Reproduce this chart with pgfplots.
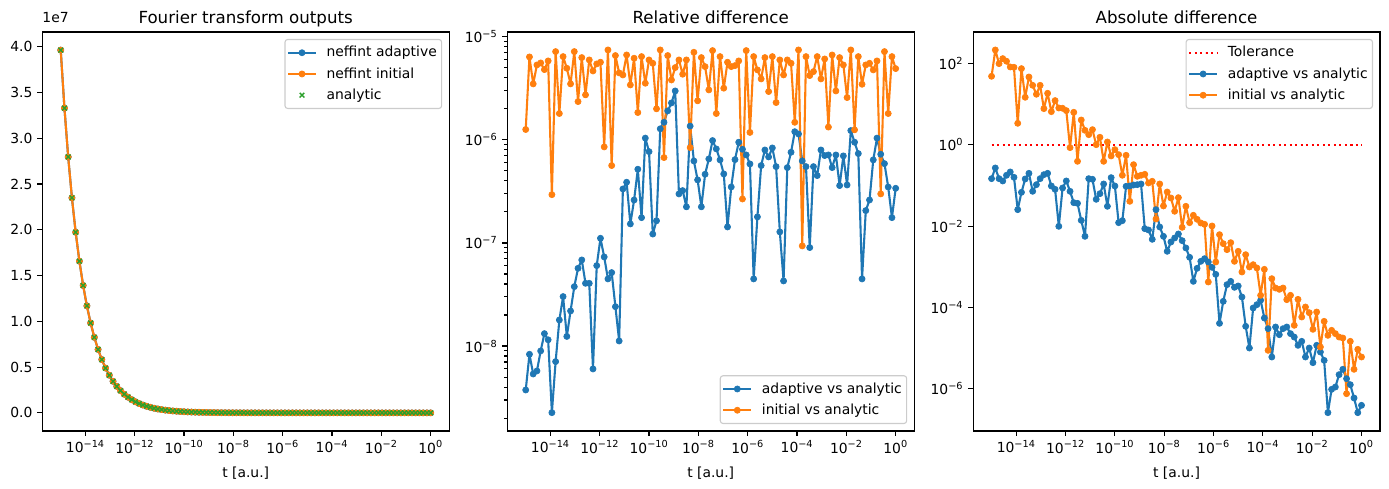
\documentclass[border=0pt]{standalone}
\usepackage{pgfplots}
\pgfplotsset{compat=1.18}
\usepackage{pgfplotstable}
\usepackage{fontspec}
\setmainfont{DejaVu Sans}
\definecolor{C0}{HTML}{1F77B4}
\definecolor{C1}{HTML}{FF7F0E}
\definecolor{C2}{HTML}{2CA02C}

% Panel 1: Fourier transform outputs
\pgfplotstableread{
t f
1.000e-15 3.963e7
1.417e-15 3.329e7
2.009e-15 2.796e7
2.848e-15 2.349e7
4.037e-15 1.973e7
5.722e-15 1.657e7
8.111e-15 1.392e7
1.150e-14 1.169e7
1.630e-14 9.82e6
2.310e-14 8.25e6
3.275e-14 6.93e6
4.642e-14 5.82e6
6.579e-14 4.89e6
9.326e-14 4.11e6
1.322e-13 3.45e6
1.874e-13 2.90e6
2.656e-13 2.43e6
3.765e-13 2.04e6
5.337e-13 1.716e6
7.565e-13 1.441e6
1.072e-12 1.211e6
1.520e-12 1.017e6
2.154e-12 8.54e5
3.054e-12 7.17e5
4.329e-12 6.03e5
6.136e-12 5.06e5
8.697e-12 4.25e5
1.233e-11 3.57e5
1.748e-11 3.00e5
2.477e-11 2.52e5
3.511e-11 2.12e5
4.977e-11 1.776e5
7.055e-11 1.492e5
1.000e-10 1.253e5
1.417e-10 1.053e5
2.009e-10 8.84e4
2.848e-10 7.43e4
4.037e-10 6.24e4
5.722e-10 5.24e4
8.111e-10 4.40e4
1.150e-09 3.70e4
1.630e-09 3.11e4
2.310e-09 2.61e4
3.275e-09 2.19e4
4.642e-09 1.84e4
6.579e-09 1.545e4
9.326e-09 1.298e4
1.322e-08 1.090e4
1.874e-08 9.16e3
2.656e-08 7.69e3
3.765e-08 6.46e3
5.337e-08 5.43e3
7.565e-08 4.56e3
1.072e-07 3.83e3
1.520e-07 3.22e3
2.154e-07 2.70e3
3.054e-07 2.27e3
4.329e-07 1.905e3
6.136e-07 1.600e3
8.697e-07 1.344e3
1.233e-06 1.129e3
1.748e-06 948
2.477e-06 796
3.511e-06 669
4.977e-06 562
7.055e-06 472
1.000e-05 396
1.417e-05 333
2.009e-05 280
2.848e-05 235
4.037e-05 197
5.722e-05 166
8.111e-05 139
1.150e-04 117
1.630e-04 98.2
2.310e-04 82.5
3.275e-04 69.3
4.642e-04 58.2
6.579e-04 48.9
9.326e-04 41.1
1.322e-03 34.5
1.874e-03 29.0
2.656e-03 24.3
3.765e-03 20.4
5.337e-03 17.2
7.565e-03 14.4
1.072e-02 12.1
1.520e-02 10.2
2.154e-02 8.54
3.054e-02 7.17
4.329e-02 6.03
6.136e-02 5.06
8.697e-02 4.25
1.233e-01 3.57
1.748e-01 3.00
2.477e-01 2.52
3.511e-01 2.12
4.977e-01 1.777
7.055e-01 1.493
1.000e+00 1.253
}\tabF

% Panel 2: Relative difference (adaptive, initial)
\pgfplotstableread{
t a i
1.000e-15 3.75e-9 1.26e-6
1.417e-15 8.32e-9 6.37e-6
2.009e-15 5.36e-9 3.49e-6
2.848e-15 5.74e-9 5.33e-6
4.037e-15 8.97e-9 5.57e-6
5.722e-15 1.32e-8 4.80e-6
8.111e-15 1.15e-8 5.83e-6
1.150e-14 2.26e-9 2.94e-7
1.630e-14 7.07e-9 7.18e-6
2.310e-14 1.79e-8 1.80e-6
3.275e-14 3.02e-8 6.42e-6
4.642e-14 1.24e-8 4.95e-6
6.579e-14 2.19e-8 3.49e-6
9.326e-14 3.77e-8 7.18e-6
1.322e-13 5.68e-8 2.35e-6
1.874e-13 6.84e-8 6.28e-6
2.656e-13 4.06e-8 2.73e-6
3.765e-13 4.06e-8 5.96e-6
5.337e-13 6.00e-9 4.66e-6
7.565e-13 6.03e-8 5.45e-6
1.072e-12 1.11e-7 5.66e-6
1.520e-12 7.32e-8 8.54e-7
2.154e-12 4.48e-8 7.45e-6
3.054e-12 5.16e-8 5.63e-7
4.329e-12 2.41e-8 6.57e-6
6.136e-12 1.12e-8 4.46e-6
8.697e-12 3.34e-7 4.26e-6
1.233e-11 3.88e-7 6.66e-6
1.748e-11 1.53e-7 3.41e-6
2.477e-11 2.61e-7 6.19e-6
3.511e-11 5.19e-7 1.84e-6
4.977e-11 1.76e-7 6.42e-6
7.055e-11 1.04e-6 3.54e-6
1.000e-10 7.69e-7 5.96e-6
1.417e-10 1.22e-7 5.53e-6
2.009e-10 1.64e-7 2.00e-6
2.848e-10 1.28e-6 7.45e-6
4.037e-10 1.48e-6 6.73e-7
5.722e-10 1.91e-6 6.57e-6
8.111e-10 2.28e-6 3.81e-6
1.150e-09 2.98e-6 5.02e-6
1.630e-09 2.99e-7 5.96e-6
2.310e-09 3.22e-7 4.33e-6
3.275e-09 2.24e-7 5.96e-6
4.642e-09 1.36e-6 8.41e-7
6.579e-09 6.24e-7 7.07e-6
9.326e-09 4.09e-7 2.39e-6
1.322e-08 2.24e-7 6.28e-6
1.874e-08 4.64e-7 5.13e-6
2.656e-08 6.53e-7 3.05e-6
3.765e-08 9.84e-7 7.34e-6
5.337e-08 8.17e-7 1.80e-6
7.565e-08 6.39e-7 6.42e-6
1.072e-07 4.67e-7 3.17e-6
1.520e-07 1.43e-7 5.66e-6
2.154e-07 3.49e-7 5.13e-6
3.054e-07 6.43e-7 5.25e-6
4.329e-07 9.48e-7 5.83e-6
6.136e-07 8.10e-7 2.67e-7
8.697e-07 7.14e-7 7.34e-6
1.233e-06 5.84e-7 1.18e-6
1.748e-06 4.48e-8 6.42e-6
2.477e-06 1.79e-7 4.77e-6
3.511e-06 5.63e-7 3.90e-6
4.977e-06 7.98e-7 6.28e-6
7.055e-06 6.83e-7 2.94e-6
1.000e-05 8.35e-7 6.42e-6
1.417e-05 5.50e-7 2.30e-6
2.009e-05 1.28e-7 5.96e-6
2.848e-05 4.28e-8 4.26e-6
4.037e-05 5.38e-7 5.96e-6
5.722e-05 7.58e-7 5.53e-6
8.111e-05 1.20e-6 1.48e-6
1.150e-04 1.14e-6 7.45e-6
1.630e-04 6.24e-7 9.36e-8
2.310e-04 5.50e-7 6.42e-6
3.275e-04 9.02e-8 4.20e-6
4.642e-04 5.50e-7 4.59e-6
6.579e-04 4.50e-7 6.42e-6
9.326e-04 7.98e-7 3.90e-6
1.322e-03 7.04e-7 6.09e-6
1.874e-03 7.14e-7 1.33e-6
2.656e-03 5.38e-7 6.66e-6
3.765e-03 7.14e-7 2.98e-6
5.337e-03 3.60e-7 6.28e-6
7.565e-03 6.99e-7 5.33e-6
1.072e-02 3.65e-7 2.57e-6
1.520e-02 1.23e-6 7.45e-6
2.154e-02 9.48e-7 1.25e-6
3.054e-02 7.36e-7 6.42e-6
4.329e-02 4.48e-8 3.46e-6
6.136e-02 2.06e-7 5.33e-6
8.697e-02 2.61e-7 5.53e-6
1.233e-01 6.39e-7 4.77e-6
1.748e-01 1.04e-6 5.83e-6
2.477e-01 7.25e-7 2.99e-7
3.511e-01 5.88e-7 7.18e-6
4.977e-01 3.49e-7 1.80e-6
7.055e-01 1.76e-7 6.42e-6
1.000e+00 3.39e-7 4.91e-6
}\tabR

% Panel 3: Absolute difference (adaptive, initial)
\pgfplotstableread{
t a i
1.000e-15 0.1464 47.8
1.417e-15 0.2677 212
2.009e-15 0.1464 97.9
2.848e-15 0.1283 130
4.037e-15 0.1768 112
5.722e-15 0.2135 81.1
8.111e-15 0.1579 79.6
1.150e-14 0.02533 3.35
1.630e-14 0.0675 73.8
2.310e-14 0.1437 14.6
3.275e-14 0.1979 46.0
4.642e-14 0.0715 28.7
6.579e-14 0.1042 17.3
9.326e-14 0.1464 28.7
1.322e-13 0.1835 7.68
1.874e-13 0.1979 18.3
2.656e-13 0.0966 6.48
3.765e-13 0.0800 12.1
5.337e-13 0.00987 7.97
7.565e-13 0.0863 7.83
1.072e-12 0.1283 6.86
1.520e-12 0.0715 0.846
2.154e-12 0.0376 6.24
3.054e-12 0.0362 0.390
4.329e-12 0.01385 4.04
6.136e-12 0.00560 2.25
8.697e-12 0.1464 1.76
1.233e-11 0.1409 2.34
1.748e-11 0.0455 1.00
2.477e-11 0.0626 1.52
3.511e-11 0.1082 0.390
4.977e-11 0.0306 1.165
7.055e-11 0.1549 0.528
1.000e-10 0.0966 0.755
1.417e-10 0.01214 0.569
2.009e-10 0.0136 0.177
2.848e-10 0.0948 0.548
4.037e-10 0.0966 0.0406
5.722e-10 0.1023 0.323
8.111e-10 0.1042 0.167
1.150e-09 0.1082 0.177
1.630e-09 0.00865 0.187
2.310e-09 0.00802 0.1146
3.275e-09 0.00473 0.1259
4.642e-09 0.02533 0.01494
6.579e-09 0.0095 0.1082
9.326e-09 0.0056 0.0312
1.322e-08 0.0024 0.0688
1.874e-08 0.00407 0.0490
2.656e-08 0.0051 0.0231
3.765e-08 0.0064 0.0500
5.337e-08 0.00439 0.00932
7.565e-08 0.0029 0.0306
1.072e-07 0.00171 0.01214
1.520e-07 0.000439 0.0184
2.154e-07 0.000917 0.01466
3.054e-07 0.001362 0.01192
4.329e-07 0.001585 0.01105
6.136e-07 0.001312 0.000423
8.697e-07 0.00097 0.01006
1.233e-06 0.000653 0.001312
1.748e-06 4.08e-5 0.00616
2.477e-06 0.0001417 0.00370
3.511e-06 0.000364 0.002636
4.977e-06 0.000439 0.00392
7.055e-06 0.000313 0.001362
1.000e-05 0.000338 0.00240
1.417e-05 0.000181 0.000745
2.009e-05 3.45e-5 0.001987
2.848e-05 1.01e-5 0.000989
4.037e-05 9.72e-5 0.001128
5.722e-05 0.0001174 0.000934
8.111e-05 0.00015 0.000199
1.150e-04 5.52e-5 0.000866
1.630e-04 3.02e-5 8.86e-6
2.310e-04 6.08e-6 0.000511
3.275e-04 3.32e-5 0.000301
4.642e-04 2.15e-5 0.000279
6.579e-04 3.02e-5 0.000301
9.326e-04 3.32e-5 0.0001558
1.322e-03 2.28e-5 0.000199
1.874e-03 1.88e-5 3.65e-5
2.656e-03 1.176e-5 0.0001587
3.765e-03 1.475e-5 5.84e-5
5.337e-03 6.08e-6 0.0001029
7.565e-03 1.01e-5 7.46e-5
1.072e-02 4.41e-6 2.91e-5
1.520e-02 1.176e-5 7.75e-5
2.154e-02 8.06e-6 1.07e-5
3.054e-02 5.03e-6 4.57e-5
4.329e-02 2.61e-7 2.07e-5
6.136e-02 9.76e-7 2.75e-5
8.697e-02 1.113e-6 2.28e-5
1.233e-01 2.24e-6 1.88e-5
1.748e-01 3.03e-6 1.78e-5
2.477e-01 1.784e-6 7.63e-7
3.511e-01 1.27e-6 1.475e-5
4.977e-01 5.98e-7 3.03e-6
7.055e-01 2.61e-7 9.38e-6
1.000e+00 3.95e-7 6.08e-6
}\tabD

\pgfplotsset{
  panel/.style={
    scale only axis, width=293pt, height=287.3pt,
    anchor=south west,
    xmin=1.778e-16, xmax=5.623,
    xtick={1e-14,1e-12,1e-10,1e-8,1e-6,1e-4,1e-2,1},
    xticklabels={10\textsuperscript{−14},10\textsuperscript{−12},10\textsuperscript{−10},10\textsuperscript{−8},10\textsuperscript{−6},10\textsuperscript{−4},10\textsuperscript{−2},10\textsuperscript{0}},
    minor xtick={},
    tick pos=left, tick align=outside,
    major tick length=3.5pt, minor tick length=2pt,
    tick style={black, line width=0.8pt},
    axis line style={line width=0.8pt},
    ticklabel style={font=\fontsize{10}{12}\selectfont},
    xlabel={t [a.u.]},
    xlabel style={font=\fontsize{10}{12}\selectfont, at={(axis description cs:0.5,0)}, anchor=base, yshift=-33.5pt},
    title style={font=\fontsize{12}{14}\selectfont, at={(axis description cs:0.5,1)}, anchor=base, yshift=0pt},
    legend cell align=left,
    legend style={draw=black!20, line width=0.8pt, rounded corners=2pt, fill=white,
      font=\fontsize{10}{12}\selectfont, inner xsep=1.5pt, inner ysep=3pt, row sep=2.2pt,
      /tikz/every odd column/.append style={column sep=5pt}},
    legend image code/.code={\draw[mark repeat=2,mark phase=2,##1] plot coordinates {(0pt,0pt) (10pt,0pt) (20pt,0pt)};},
  },
  dotline/.style={line width=1.5pt, line join=round, mark=*, mark size=2.2pt, mark options={solid, line width=0.5pt}},
}

\begin{document}
\begin{tikzpicture}
\path[use as bounding box] (0,0) rectangle (1000.08pt,352.08pt);

\begin{axis}[xmode=log, panel, at={(30.4pt,41.76pt)},
  title={Fourier transform outputs},
  ymin=-1.98e6, ymax=4.161e7, scaled y ticks=false,
  ytick={0,5e6,1e7,1.5e7,2e7,2.5e7,3e7,3.5e7,4e7},
  yticklabels={0.0,0.5,1.0,1.5,2.0,2.5,3.0,3.5,4.0},
  legend style={at={(1,1)}, anchor=north east, xshift=-5pt, yshift=-5pt},
  after end axis/.code={\node[anchor=south west, inner sep=0pt, font=\fontsize{10}{12}\selectfont] at (rel axis cs:0,1) [yshift=6.5pt] {1e7};}]
\addplot[C0, dotline] table[x=t, y=f]{\tabF};
\addlegendentry{neffint adaptive}
\addplot[C1, dotline] table[x=t, y=f]{\tabF};
\addlegendentry{neffint initial}
\addplot[C2, only marks, mark=x, mark size=2.4pt, mark options={line width=1pt}] table[x=t, y=f]{\tabF};
\addlegendentry{analytic}
\end{axis}

\begin{axis}[xmode=log, ymode=log, panel, at={(365.2pt,41.76pt)},
  title={Relative difference},
  ymin=1.50e-9, ymax=1.112e-5,
  ytick={1e-8,1e-7,1e-6,1e-5},
  yticklabels={10\textsuperscript{−8},10\textsuperscript{−7},10\textsuperscript{−6},10\textsuperscript{−5}},
  minor ytick={2e-9,3e-9,4e-9,5e-9,6e-9,7e-9,8e-9,9e-9,2e-8,3e-8,4e-8,5e-8,6e-8,7e-8,8e-8,9e-8,2e-7,3e-7,4e-7,5e-7,6e-7,7e-7,8e-7,9e-7,2e-6,3e-6,4e-6,5e-6,6e-6,7e-6,8e-6,9e-6},
  legend style={at={(1,0)}, anchor=south east, xshift=-5pt, yshift=5pt}]
\addplot[C0, dotline] table[x=t, y=a]{\tabR};
\addlegendentry{adaptive vs analytic}
\addplot[C1, dotline] table[x=t, y=i]{\tabR};
\addlegendentry{initial vs analytic}
\end{axis}

\begin{axis}[xmode=log, ymode=log, panel, at={(700.6pt,41.76pt)},
  title={Absolute difference},
  ymin=9.25e-8, ymax=587,
  ytick={1e-6,1e-4,1e-2,1,1e2},
  yticklabels={10\textsuperscript{−6},10\textsuperscript{−4},10\textsuperscript{−2},10\textsuperscript{0},10\textsuperscript{2}},
  minor ytick={},
  legend style={at={(1,1)}, anchor=north east, xshift=-5pt, yshift=-5pt}]
\addplot[red, line width=1.5pt, dash pattern=on 1.5pt off 2.475pt] table[x=t, y=tol]{
t tol
1e-15 1
1 1
};
\addlegendentry{Tolerance}
\addplot[C0, dotline] table[x=t, y=a]{\tabD};
\addlegendentry{adaptive vs analytic}
\addplot[C1, dotline] table[x=t, y=i]{\tabD};
\addlegendentry{initial vs analytic}
\end{axis}
\end{tikzpicture}
\end{document}
